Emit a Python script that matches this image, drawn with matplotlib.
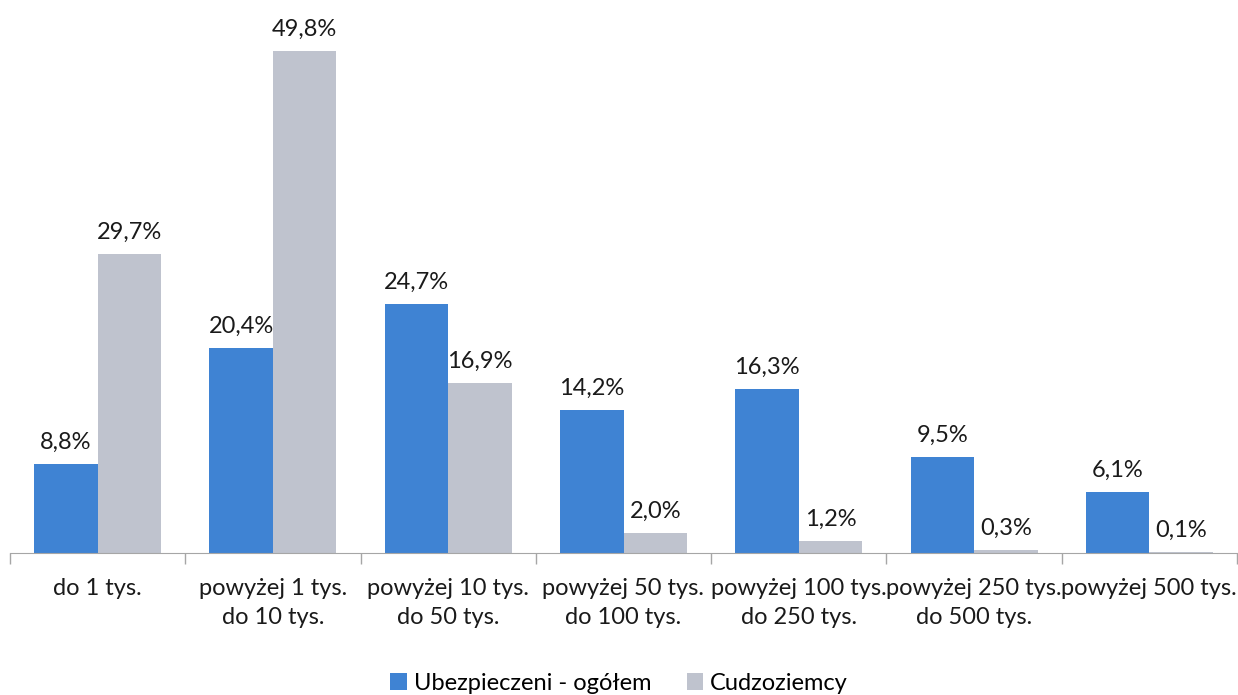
import numpy as np
import matplotlib.pyplot as plt

plt.rcParams['font.family'] = ['Lato', 'DejaVu Sans']

# data
categories = ['do 1 tys.', 'powyżej 1 tys.\ndo 10 tys.', 'powyżej 10 tys.\ndo 50 tys.',
              'powyżej 50 tys.\ndo 100 tys.', 'powyżej 100 tys.\ndo 250 tys.',
              'powyżej 250 tys.\ndo 500 tys.', 'powyżej 500 tys.']
ogolem = [8.8, 20.4, 24.7, 14.2, 16.3, 9.5, 6.1]
cudzoziemcy = [29.7, 49.8, 16.9, 2.0, 1.2, 0.3, 0.1]
series_names = ['Ubezpieczeni - ogółem', 'Cudzoziemcy']

blue = '#3F83D3'
grey = '#BFC3CE'
fs = 17

fig = plt.figure(figsize=(12.38, 6.95), dpi=100)
ax = fig.add_axes([10 / 1238, 142 / 695, 1227 / 1238, 553 / 695])

x = np.arange(len(categories))
w = 0.362
b1 = ax.bar(x - w / 2, ogolem, w, color=blue, label=series_names[0])
b2 = ax.bar(x + w / 2, cudzoziemcy, w, color=grey, label=series_names[1])

for bars, vals in ((b1, ogolem), (b2, cudzoziemcy)):
    for r, v in zip(bars, vals):
        ax.annotate(f'{v:.1f}%'.replace('.', ','), (r.get_x() + r.get_width() / 2, v),
                    xytext=(0, 8), textcoords='offset points', ha='center', va='bottom',
                    fontsize=fs, color='#1a1a1a')

ax.set_xlim(-0.5, len(categories) - 0.5)
ax.set_ylim(0, 54.9)
ax.set_yticks([])
for s in ('top', 'right', 'left'):
    ax.spines[s].set_visible(False)
ax.spines['bottom'].set_color('#A6A6A6')

# boundary ticks between categories
ax.set_xticks(np.arange(-0.5, len(categories)), minor=False)
ax.set_xticklabels([])
ax.tick_params(axis='x', which='major', length=8, color='#A6A6A6', width=1)
ax.set_xticks(x, minor=True)
ax.set_xticklabels(categories, minor=True, fontsize=fs, color='#1a1a1a', linespacing=1.5)
ax.tick_params(axis='x', which='minor', length=0, pad=18)

fig.legend(loc='center', bbox_to_anchor=(0.5, 12 / 695), ncol=2, frameon=False,
           fontsize=fs, handlelength=0.7, handleheight=0.7, handletextpad=0.3,
           columnspacing=1.5)

fig.savefig('out.png', dpi=100)
